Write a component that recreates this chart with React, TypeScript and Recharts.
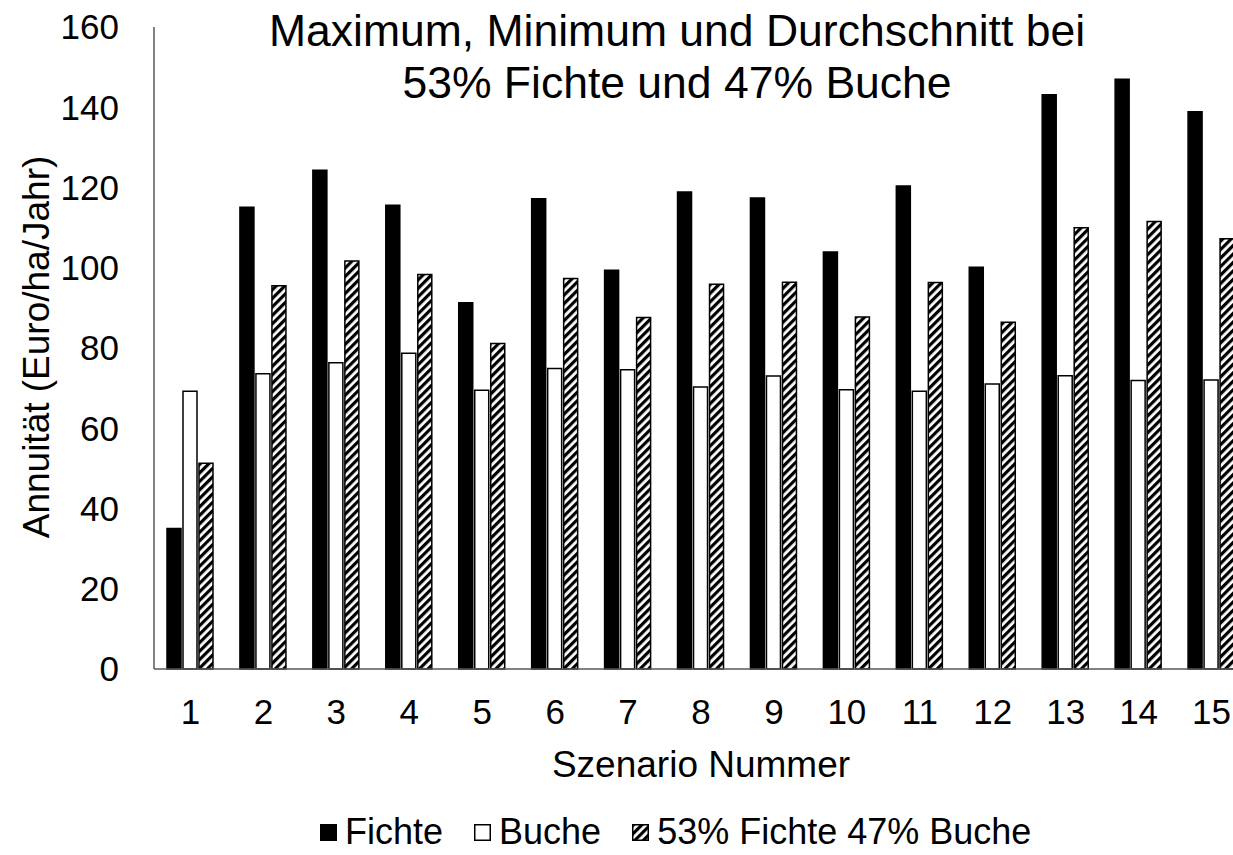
import React from "react";
import { BarChart, Bar, XAxis, YAxis } from "recharts";

const scenarios = ["1", "2", "3", "4", "5", "6", "7", "8", "9", "10", "11", "12", "13", "14", "15"];
const fichte = [35.0, 115.1, 124.3, 115.6, 91.3, 117.2, 99.4, 118.9, 117.4, 103.9, 120.4, 100.1, 143.1, 147.0, 138.9];
const buche = [69.2, 73.6, 76.3, 78.7, 69.5, 74.9, 74.6, 70.3, 73.0, 69.6, 69.2, 71.0, 73.1, 71.9, 72.0];
const mischung = [51.3, 95.5, 101.7, 98.3, 81.1, 97.3, 87.6, 95.9, 96.4, 87.7, 96.3, 86.4, 110.0, 111.5, 107.2];
const yTicks = [0, 20, 40, 60, 80, 100, 120, 140, 160];

const data = scenarios.map((name, i) => ({
  name,
  fichte: fichte[i],
  buche: buche[i],
  mischung: mischung[i],
}));

const FONT = '"Liberation Sans", Arial, Helvetica, sans-serif';
const AXIS = "#595959";

const series = [
  { key: "fichte", label: "Fichte", fill: "#000" },
  { key: "buche", label: "Buche", fill: "#fff" },
  { key: "mischung", label: "53% Fichte 47% Buche", fill: "url(#hatch53)" },
];

function YTitle() {
  return (
    <text
      transform="translate(49,347) rotate(-90)"
      textAnchor="middle"
      fontSize={37}
      fill="#000"
      fontFamily={FONT}
    >
      Annuität (Euro/ha/Jahr)
    </text>
  );
}

export default function App() {
  return (
    <div
      style={{
        position: "absolute",
        left: 0,
        top: 0,
        width: 1233,
        height: 855,
        overflow: "hidden",
        background: "#fff",
        fontFamily: FONT,
      }}
    >
      {/* stripe fill for the mixed stand */}
      <svg width={0} height={0} style={{ position: "absolute" }}>
        <defs>
          <pattern
            id="hatch53"
            patternUnits="userSpaceOnUse"
            width={6}
            height={6}
            patternTransform="rotate(45)"
          >
            <rect x={0} y={0} width={6} height={6} fill="#fff" />
            <rect x={0} y={0} width={3.2} height={6} fill="#000" />
          </pattern>
        </defs>
      </svg>

      <BarChart
        width={1248}
        height={855}
        data={data}
        margin={{ top: 27, right: 0, bottom: 109, left: 0 }}
        barCategoryGap={13}
        barGap={2}
      >
        <XAxis
          dataKey="name"
          interval={0}
          height={77}
          axisLine={{ stroke: AXIS, strokeWidth: 1.5 }}
          tickLine={false}
          tickSize={0}
          tickMargin={30}
          tick={{ fill: "#000", fontSize: 35, fontFamily: FONT }}
          label={{
            value: "Szenario Nummer",
            position: "bottom",
            offset: 5,
            fill: "#000",
            fontSize: 37,
            fontFamily: FONT,
          }}
        />
        <YAxis
          width={154}
          domain={[0, 160]}
          ticks={yTicks}
          interval={0}
          axisLine={{ stroke: AXIS, strokeWidth: 1.5 }}
          tickLine={false}
          tickSize={0}
          tickMargin={35}
          tick={{ fill: "#000", fontSize: 35, fontFamily: FONT }}
          label={{ content: YTitle }}
        />
        {series.map((s) => (
          <Bar
            key={s.key}
            dataKey={s.key}
            fill={s.fill}
            stroke="#000"
            strokeWidth={1.5}
            isAnimationActive={false}
          />
        ))}
      </BarChart>

      <svg
        width={1233}
        height={120}
        style={{ position: "absolute", left: 0, top: 0, pointerEvents: "none" }}
      >
        <text x={677} y={46} textAnchor="middle" fontSize={44.5} fill="#000" fontFamily={FONT}>
          Maximum, Minimum und Durchschnitt bei
        </text>
        <text x={677} y={98} textAnchor="middle" fontSize={44.5} fill="#000" fontFamily={FONT}>
          53% Fichte und 47% Buche
        </text>
      </svg>

      <div
        style={{
          position: "absolute",
          left: 320,
          top: 812,
          height: 40,
          display: "flex",
          alignItems: "center",
          gap: 31,
          fontSize: 36,
          lineHeight: "40px",
          color: "#000",
          whiteSpace: "nowrap",
        }}
      >
        {series.map((s) => (
          <div key={s.key} style={{ display: "flex", alignItems: "center" }}>
            <svg width={17} height={17} style={{ marginRight: 8 }}>
              <rect x={0.75} y={0.75} width={15.5} height={15.5} fill={s.fill} stroke="#000" strokeWidth={1.5} />
            </svg>
            <span>{s.label}</span>
          </div>
        ))}
      </div>
    </div>
  );
}
